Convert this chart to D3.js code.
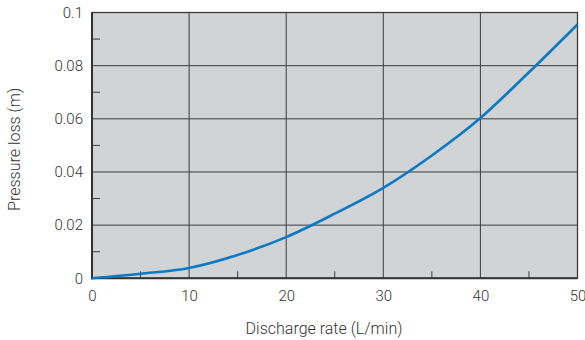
<!DOCTYPE html>
<html><head><meta charset="utf-8">
<script src="https://cdn.jsdelivr.net/npm/d3@7"></script>
<style>body{margin:0;background:#fff}svg{display:block}text{font-family:Roboto,"Liberation Sans",Arial,sans-serif;font-weight:300;fill:#333}</style>
</head><body><svg id="c" width="585" height="340"></svg>
<script>
const flow = [0, 5, 10, 15, 20, 25, 30, 35, 40, 45, 50];
const loss = [0, 0.0017, 0.0039, 0.0088, 0.0155, 0.0243, 0.034, 0.0462, 0.0603, 0.0775, 0.0955];
const xTicks = [0, 10, 20, 30, 40, 50];
const xMinor = [5, 15, 25, 35, 45];
const yTicks = [0, 0.02, 0.04, 0.06, 0.08, 0.1];
const yMinor = [0.01, 0.03, 0.05, 0.07, 0.09];
const xTitle = "Discharge rate (L/min)";
const yTitle = "Pressure loss (m)";

const FONT = "Roboto, Liberation Sans, Arial, sans-serif";
const svg = d3.select("#c");
const L = 92, R = 577.5, T = 12.5, B = 278.3;
const x = d3.scaleLinear().domain([0, 50]).range([L, R]);
const y = d3.scaleLinear().domain([0, 0.1]).range([B, T]);

svg.append("rect").attr("x", L).attr("y", T).attr("width", R - L).attr("height", B - T).attr("fill", "#d1d3d4");

// grid
svg.append("g").selectAll("line").data(xTicks.slice(1, -1)).join("line")
  .attr("x1", d => x(d)).attr("x2", d => x(d)).attr("y1", T).attr("y2", B)
  .attr("stroke", "#3c3c3c").attr("stroke-width", 1);
svg.append("g").selectAll("line").data(yTicks.slice(1, -1)).join("line")
  .attr("y1", d => y(d)).attr("y2", d => y(d)).attr("x1", L).attr("x2", R)
  .attr("stroke", "#3c3c3c").attr("stroke-width", 1);

// minor ticks
svg.append("g").selectAll("line").data(xMinor).join("line")
  .attr("x1", d => x(d)).attr("x2", d => x(d)).attr("y1", B).attr("y2", B - 7)
  .attr("stroke", "#3c3c3c").attr("stroke-width", 1);
svg.append("g").selectAll("line").data(yMinor).join("line")
  .attr("y1", d => y(d)).attr("y2", d => y(d)).attr("x1", L).attr("x2", L + 8)
  .attr("stroke", "#3c3c3c").attr("stroke-width", 1);

// frame
svg.append("rect").attr("x", L).attr("y", T).attr("width", R - L).attr("height", B - T)
  .attr("fill", "none").attr("stroke", "#3c3c3c").attr("stroke-width", 1.3);
svg.append("line").attr("x1", L).attr("x2", L).attr("y1", T).attr("y2", B + 1).attr("stroke", "#333").attr("stroke-width", 2);
svg.append("line").attr("x1", L - 1).attr("x2", R).attr("y1", B).attr("y2", B).attr("stroke", "#333").attr("stroke-width", 2);

// tick labels via d3 axes (no lines)
const xa = svg.append("g").attr("transform", `translate(0,${B})`)
  .call(d3.axisBottom(x).tickValues(xTicks).tickSize(0).tickPadding(12).tickFormat(d3.format("d")));
xa.select(".domain").remove();
xa.selectAll("text").attr("font-size", 15).attr("font-family", FONT).attr("font-weight", 300).style("fill", "#333");
const ya = svg.append("g").attr("transform", `translate(${L},0)`)
  .call(d3.axisLeft(y).tickValues(yTicks).tickSize(0).tickPadding(9).tickFormat(d => d === 0 ? "0" : String(+d.toFixed(2))));
ya.select(".domain").remove();
ya.selectAll("text").attr("font-size", 15).attr("font-family", FONT).attr("font-weight", 300).style("fill", "#333");

// curve
const line = d3.line().x((d, i) => x(flow[i])).y(d => y(d)).curve(d3.curveMonotoneX);
svg.append("path").attr("d", line(loss)).attr("fill", "none").attr("stroke", "#0a7ac6").attr("stroke-width", 2.6);

// titles
svg.append("text").attr("x", 324).attr("y", 334).attr("text-anchor", "middle").attr("font-size", 16).text(xTitle);
svg.append("text").attr("transform", `translate(20,${(T + B) / 2 + 4}) rotate(-90)`).attr("text-anchor", "middle").attr("font-size", 16).text(yTitle);
</script></body></html>
